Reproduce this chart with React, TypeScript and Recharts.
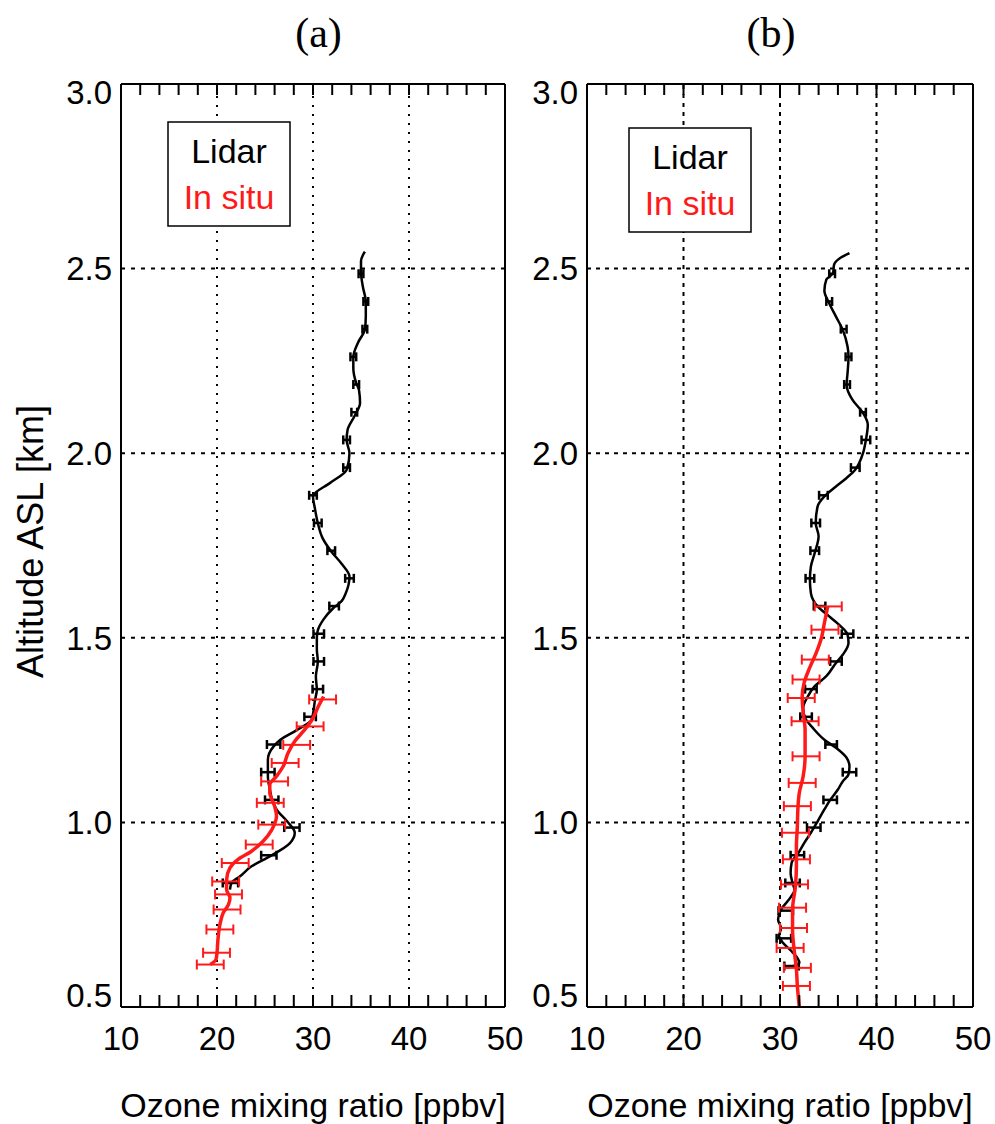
import React from 'react';
import { ComposedChart, Line, XAxis, YAxis, ErrorBar, ReferenceLine, Label } from 'recharts';

// ---------- axis ticks ----------
const xMajorTicks = [10, 20, 30, 40, 50];
const xMinorTicks = [12, 14, 16, 18, 20, 22, 24, 26, 28, 30, 32, 34, 36, 38, 40, 42, 44, 46, 48];
const yMajorTicks = [0.5, 1.0, 1.5, 2.0, 2.5, 3.0];
const yMinorTicks = [0.6, 0.7, 0.8, 0.9, 1.0, 1.1, 1.2, 1.3, 1.4, 1.5, 1.6, 1.7, 1.8, 1.9, 2.0, 2.1, 2.2, 2.3, 2.4, 2.5, 2.6, 2.7, 2.8, 2.9];
const xGrid = [20, 30, 40];
const yGrid = [1.0, 1.5, 2.0, 2.5];

// ---------- panel (a) ----------
const lidarAAlt = [0.818, 0.836, 0.854, 0.881, 0.908, 0.944, 0.972, 1.003, 1.035, 1.057, 1.09, 1.125, 1.17, 1.206, 1.224, 1.25, 1.278, 1.33, 1.36, 1.395, 1.436, 1.47, 1.5, 1.52, 1.55, 1.58, 1.6, 1.62, 1.666, 1.7, 1.734, 1.77, 1.811, 1.85, 1.883, 1.92, 1.955, 2.0, 2.036, 2.063, 2.104, 2.136, 2.17, 2.19, 2.23, 2.26, 2.3, 2.335, 2.37, 2.41, 2.45, 2.49, 2.52, 2.546];
const lidarAOzone = [21.35, 21.5, 22.4, 23.6, 25.5, 27.6, 28.1, 27.3, 26.2, 25.8, 25.5, 25.3, 25.3, 25.9, 26.6, 28.3, 29.85, 30.2, 30.4, 30.3, 30.5, 30.4, 30.4, 30.5, 31.1, 32.1, 33.0, 33.4, 33.8, 33.0, 31.9, 31.0, 30.5, 30.2, 30.0, 31.8, 33.5, 33.8, 33.5, 33.6, 34.4, 34.9, 34.8, 34.5, 34.2, 34.2, 34.7, 35.4, 35.5, 35.5, 35.2, 35.0, 35.0, 35.4];

const lidarABarAlt = [0.836, 0.911, 0.986, 1.061, 1.136, 1.211, 1.286, 1.361, 1.436, 1.511, 1.586, 1.661, 1.736, 1.811, 1.886, 1.961, 2.036, 2.111, 2.186, 2.261, 2.336, 2.411, 2.486];
const lidarABarOzone = [21.4, 25.4, 27.8, 25.7, 25.3, 25.9, 29.7, 30.5, 30.6, 30.6, 32.2, 33.8, 31.9, 30.5, 30.0, 33.5, 33.5, 34.3, 34.5, 34.2, 35.4, 35.5, 35.0];
const lidarABarErr = [0.8, 0.8, 0.8, 0.7, 0.7, 0.7, 0.6, 0.55, 0.55, 0.55, 0.5, 0.45, 0.4, 0.4, 0.4, 0.35, 0.35, 0.3, 0.3, 0.3, 0.25, 0.25, 0.25];

const insituAAlt = [0.615, 0.629, 0.647, 0.683, 0.723, 0.755, 0.778, 0.796, 0.818, 0.845, 0.877, 0.9, 0.922, 0.949, 0.98, 1.017, 1.044, 1.08, 1.102, 1.125, 1.152, 1.188, 1.22, 1.247, 1.278, 1.314, 1.341];
const insituAOzone = [19.3, 19.9, 20.0, 20.1, 20.3, 20.65, 21.2, 21.35, 21.0, 21.0, 21.35, 22.2, 23.6, 24.8, 25.7, 26.2, 26.0, 25.5, 25.5, 26.2, 26.9, 27.4, 28.1, 29.0, 29.9, 30.55, 31.1];

const insituABarAlt = [0.615, 0.647, 0.71, 0.764, 0.805, 0.84, 0.89, 0.94, 0.994, 1.053, 1.111, 1.161, 1.21, 1.26, 1.333];
const insituABarOzone = [19.3, 19.95, 20.3, 21.05, 21.2, 20.9, 21.9, 24.4, 25.7, 25.55, 26.0, 27.1, 28.3, 29.7, 31.0];
const insituABarErr = [1.4, 1.4, 1.4, 1.4, 1.4, 1.4, 1.4, 1.4, 1.4, 1.4, 1.4, 1.4, 1.4, 1.4, 1.4];

// ---------- panel (b) ----------
const lidarBAlt = [0.606, 0.62, 0.651, 0.674, 0.692, 0.714, 0.737, 0.764, 0.787, 0.818, 0.836, 0.863, 0.89, 0.917, 0.944, 0.972, 1.003, 1.035, 1.057, 1.089, 1.111, 1.13, 1.152, 1.175, 1.202, 1.224, 1.256, 1.283, 1.31, 1.342, 1.369, 1.396, 1.432, 1.454, 1.486, 1.509, 1.531, 1.558, 1.585, 1.621, 1.657, 1.693, 1.73, 1.775, 1.811, 1.856, 1.883, 1.91, 1.933, 1.955, 1.973, 2.0, 2.036, 2.077, 2.109, 2.145, 2.185, 2.217, 2.262, 2.289, 2.334, 2.37, 2.406, 2.44, 2.47, 2.488, 2.51, 2.528, 2.542];
const lidarBOzone = [30.7, 32.0, 31.2, 30.3, 29.9, 30.1, 29.8, 30.1, 30.8, 31.5, 31.3, 31.1, 31.2, 31.9, 32.5, 33.2, 33.9, 34.6, 35.1, 36.0, 36.5, 37.1, 37.2, 36.9, 35.8, 34.6, 33.4, 32.6, 32.4, 32.9, 33.6, 34.8, 35.8, 36.5, 37.1, 37.0, 36.3, 35.1, 33.9, 33.2, 33.1, 33.2, 33.6, 34.0, 33.7, 33.9, 34.6, 35.8, 36.9, 37.8, 38.2, 38.6, 38.9, 39.1, 38.6, 37.5, 36.9, 37.0, 37.1, 37.0, 36.5, 35.8, 35.1, 34.6, 34.8, 35.5, 35.6, 36.2, 37.2];

const lidarBBarAlt = [0.611, 0.686, 0.761, 0.836, 0.911, 0.986, 1.061, 1.136, 1.211, 1.286, 1.361, 1.436, 1.511, 1.586, 1.661, 1.736, 1.811, 1.886, 1.961, 2.036, 2.111, 2.186, 2.261, 2.336, 2.411, 2.486];
const lidarBBarOzone = [31.2, 30.4, 30.6, 31.3, 31.8, 33.5, 35.2, 37.2, 35.3, 32.7, 33.2, 35.8, 37.0, 34.1, 33.1, 33.6, 33.7, 34.5, 37.8, 38.9, 38.6, 36.95, 37.1, 36.6, 35.1, 35.4];
const lidarBBarErr = [0.75, 0.75, 0.75, 0.75, 0.7, 0.7, 0.7, 0.7, 0.6, 0.6, 0.6, 0.6, 0.6, 0.6, 0.45, 0.45, 0.45, 0.45, 0.45, 0.45, 0.3, 0.3, 0.3, 0.3, 0.3, 0.3];

const insituBAlt = [0.5, 0.557, 0.602, 0.647, 0.71, 0.764, 0.827, 0.881, 0.935, 0.99, 1.035, 1.08, 1.125, 1.179, 1.251, 1.297, 1.342, 1.378, 1.418, 1.459, 1.5, 1.54, 1.585];
const insituBOzone = [32.0, 31.8, 31.7, 31.5, 31.3, 31.3, 31.6, 31.7, 31.7, 31.8, 31.85, 32.0, 32.4, 32.6, 32.6, 32.4, 32.3, 32.5, 33.06, 33.75, 34.3, 34.6, 34.95];

const insituBBarAlt = [0.557, 0.606, 0.66, 0.714, 0.769, 0.832, 0.9, 0.972, 1.044, 1.107, 1.179, 1.274, 1.337, 1.387, 1.441, 1.522, 1.585];
const insituBBarOzone = [31.7, 31.8, 31.05, 31.4, 31.3, 31.5, 31.7, 31.6, 31.8, 32.3, 32.7, 32.6, 32.2, 32.7, 33.66, 34.66, 35.0];
const insituBBarErr = [1.4, 1.4, 1.4, 1.4, 1.4, 1.4, 1.4, 1.4, 1.4, 1.4, 1.4, 1.4, 1.4, 1.4, 1.4, 1.4, 1.4];

type Pt = { alt: number; ozone: number; err?: number };
const build = (alt: number[], oz: number[], err?: number[]): Pt[] =>
  alt.map((a, i) => (err ? { alt: a, ozone: oz[i], err: err[i] } : { alt: a, ozone: oz[i] }));

const RED = '#ff1a1a';
const SANS = '"Liberation Sans", Arial, Helvetica, sans-serif';
const SERIF = '"Liberation Serif", "Times New Roman", serif';

const XTick = (props: any) => {
  const { x, y, payload } = props;
  return (
    <text x={x} y={y + 42.5} textAnchor="middle" fontSize={33} fill="#000" fontFamily={SANS}>
      {payload.value}
    </text>
  );
};

const YTick = (props: any) => {
  const { x, y, payload } = props;
  const v = payload.value as number;
  const shift = Math.abs(v - 3) < 1e-6 ? 8.5 : Math.abs(v - 0.5) < 1e-6 ? -12 : 0;
  return (
    <text x={x} y={y + shift + 11.8} textAnchor="end" fontSize={33} fill="#000" fontFamily={SANS}>
      {v.toFixed(1)}
    </text>
  );
};

const NoLabel = () => <g />;

type PanelProps = {
  width: number;
  ml: number;
  mr: number;
  title: string;
  titleDx: number;
  vDash: string;
  hDash: string;
  lidar: Pt[];
  lidarBars: Pt[];
  insitu: Pt[];
  insituBars: Pt[];
};

function Panel(p: PanelProps) {
  const axisLine = { stroke: '#000', strokeWidth: 2 };
  const tickLine = { stroke: '#000', strokeWidth: 2 };
  return (
    <ComposedChart
      width={p.width}
      height={1124}
      layout="vertical"
      margin={{ top: 84, right: p.mr, bottom: 116, left: p.ml - 1 }}
    >
      <XAxis
        xAxisId="x"
        type="number"
        domain={[10, 50]}
        allowDataOverflow
        ticks={xMajorTicks}
        interval={0}
        orientation="bottom"
        height={1}
        tickLine={false}
        tickSize={0}
        tickMargin={0}
        axisLine={axisLine}
        tick={XTick}
      >
        <Label value="Ozone mixing ratio [ppbv]" position="bottom" offset={85} fontSize={34} fill="#000" fontFamily={SANS} />
      </XAxis>
      <XAxis
        xAxisId="xb"
        type="number"
        domain={[10, 50]}
        allowDataOverflow
        ticks={xMinorTicks}
        interval={0}
        orientation="bottom"
        height={1}
        mirror
        tickSize={12}
        tick={NoLabel}
        axisLine={false}
        tickLine={tickLine}
      />
      <XAxis
        xAxisId="xt"
        type="number"
        domain={[10, 50]}
        allowDataOverflow
        ticks={xMinorTicks}
        interval={0}
        orientation="top"
        height={1}
        mirror
        tickSize={11}
        tick={NoLabel}
        axisLine={axisLine}
        tickLine={tickLine}
      >
        <Label value={p.title} position="top" offset={37} dx={p.titleDx} fontSize={42} fill="#000" fontFamily={SERIF} />
      </XAxis>
      <YAxis
        yAxisId="y"
        type="number"
        dataKey="alt"
        domain={[0.5, 3]}
        allowDataOverflow
        reversed
        ticks={yMajorTicks}
        interval={0}
        width={1}
        tickLine={false}
        tickSize={0}
        tickMargin={9}
        axisLine={axisLine}
        tick={YTick}
      />
      <YAxis
        yAxisId="yl"
        type="number"
        domain={[0.5, 3]}
        allowDataOverflow
        reversed
        ticks={yMinorTicks}
        interval={0}
        width={1}
        mirror
        tickSize={7}
        tick={NoLabel}
        axisLine={false}
        tickLine={tickLine}
      />
      <YAxis
        yAxisId="yr"
        orientation="right"
        type="number"
        domain={[0.5, 3]}
        allowDataOverflow
        reversed
        ticks={yMinorTicks}
        interval={0}
        width={1}
        mirror
        tickSize={7}
        tick={NoLabel}
        axisLine={axisLine}
        tickLine={tickLine}
      />
      {xGrid.map((v) => (
        <ReferenceLine key={`gx${v}`} xAxisId="x" yAxisId="y" x={v} stroke="#000" strokeWidth={2} strokeDasharray={p.vDash} />
      ))}
      {yGrid.map((v) => (
        <ReferenceLine key={`gy${v}`} xAxisId="x" yAxisId="y" y={v} stroke="#000" strokeWidth={2} strokeDasharray={p.hDash} />
      ))}
      <Line
        xAxisId="x"
        yAxisId="y"
        data={p.lidar}
        dataKey="ozone"
        type="monotone"
        stroke="#000"
        strokeWidth={2.5}
        dot={false}
        activeDot={false}
        isAnimationActive={false}
      />
      <Line
        xAxisId="x"
        yAxisId="y"
        data={p.lidarBars}
        dataKey="ozone"
        stroke="none"
        dot={false}
        activeDot={false}
        isAnimationActive={false}
      >
        <ErrorBar dataKey="err" direction="x" width={4.5} stroke="#000" strokeWidth={2.5} isAnimationActive={false} />
      </Line>
      <Line
        xAxisId="x"
        yAxisId="y"
        data={p.insitu}
        dataKey="ozone"
        type="monotone"
        stroke={RED}
        strokeWidth={3.5}
        dot={false}
        activeDot={false}
        isAnimationActive={false}
      />
      <Line
        xAxisId="x"
        yAxisId="y"
        data={p.insituBars}
        dataKey="ozone"
        stroke="none"
        dot={false}
        activeDot={false}
        isAnimationActive={false}
      >
        <ErrorBar dataKey="err" direction="x" width={5} stroke={RED} strokeWidth={2} isAnimationActive={false} />
      </Line>
    </ComposedChart>
  );
}

export default function App() {
  return (
    <div
      style={{
        position: 'absolute',
        left: 0,
        top: 0,
        width: 995,
        height: 1124,
        background: '#fff',
        fontFamily: SANS,
        overflow: 'hidden',
      }}
    >
      <div style={{ position: 'absolute', left: 0, top: 0 }}>
        <Panel
          width={540}
          ml={121}
          mr={35}
          title="(a)"
          titleDx={5.5}
          vDash="2 7"
          hDash="4 6"
          lidar={build(lidarAAlt, lidarAOzone)}
          lidarBars={build(lidarABarAlt, lidarABarOzone, lidarABarErr)}
          insitu={build(insituAAlt, insituAOzone)}
          insituBars={build(insituABarAlt, insituABarOzone, insituABarErr)}
        />
      </div>
      <div style={{ position: 'absolute', left: 465, top: 0 }}>
        <Panel
          width={530}
          ml={122}
          mr={22}
          title="(b)"
          titleDx={-9}
          vDash="4 5"
          hDash="4 5"
          lidar={build(lidarBAlt, lidarBOzone)}
          lidarBars={build(lidarBBarAlt, lidarBBarOzone, lidarBBarErr)}
          insitu={build(insituBAlt, insituBOzone)}
          insituBars={build(insituBBarAlt, insituBBarOzone, insituBBarErr)}
        />
      </div>
      <svg
        width={995}
        height={1124}
        style={{ position: 'absolute', left: 0, top: 0, pointerEvents: 'none' }}
      >
        <text transform="translate(43,541.5) rotate(-90)" textAnchor="middle" fontSize={36} fill="#000" fontFamily={SANS}>
          Altitude ASL [km]
        </text>
        <rect x={168} y={122} width={122} height={104} fill="#fff" stroke="#000" strokeWidth={1.5} />
        <text x={229} y={163} textAnchor="middle" fontSize={34} fill="#000" fontFamily={SANS}>Lidar</text>
        <text x={229} y={209} textAnchor="middle" fontSize={34} fill={RED} fontFamily={SANS}>In situ</text>
        <rect x={629} y={128} width={122} height={104} fill="#fff" stroke="#000" strokeWidth={1.5} />
        <text x={690} y={169} textAnchor="middle" fontSize={34} fill="#000" fontFamily={SANS}>Lidar</text>
        <text x={690} y={215} textAnchor="middle" fontSize={34} fill={RED} fontFamily={SANS}>In situ</text>
      </svg>
    </div>
  );
}
